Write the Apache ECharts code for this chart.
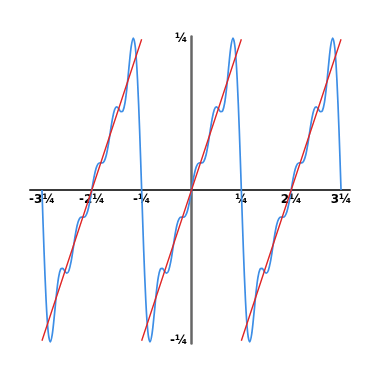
<!DOCTYPE html>
<html>
<head>
<meta charset="utf-8">
<script src="https://cdn.jsdelivr.net/npm/echarts@6/dist/echarts.min.js"></script>
<style>
html,body{margin:0;padding:0;background:#fff;}
#chart{width:375px;height:372px;}
</style>
</head>
<body>
<div id="chart"></div>
<script>
// x in multiples of the period unit shown as "¼" on the axis
const xTickValues = [-3, -2, -1, 1, 2, 3];
const xTickLabels = ['-3¼', '-2¼', '-¼', '¼', '2¼', '3¼'];
const yTickValues = [-3.1416, 3.1416];
const yTickLabels = ['-¼', '¼'];

// red sawtooth: segment end points [x, y]
const sawX = [-3, -1, null, -1, 1, null, 1, 3];
const sawY = [-3.1416, 3.1416, null, -3.1416, 3.1416, null, -3.1416, 3.1416];

// blue approximation, sampled from x = -3 to 3 every 1/24
const approxStart = -3;
const approxStep = 1 / 24;
const approxY = [
  0, -1.269, -2.308, -2.958, -3.166, -2.997, -2.603, -2.161, -1.819, -1.647, -1.631, -1.693,
  -1.733, -1.676, -1.497, -1.233, -0.953, -0.729, -0.603, -0.565, -0.568, -0.544, -0.442, -0.251,
  0, 0.251, 0.442, 0.544, 0.568, 0.565, 0.603, 0.729, 0.953, 1.233, 1.497, 1.676,
  1.733, 1.693, 1.631, 1.647, 1.819, 2.161, 2.603, 2.997, 3.166, 2.958, 2.308, 1.269,
  0, -1.269, -2.308, -2.958, -3.166, -2.997, -2.603, -2.161, -1.819, -1.647, -1.631, -1.693,
  -1.733, -1.676, -1.497, -1.233, -0.953, -0.729, -0.603, -0.565, -0.568, -0.544, -0.442, -0.251,
  0, 0.251, 0.442, 0.544, 0.568, 0.565, 0.603, 0.729, 0.953, 1.233, 1.497, 1.676,
  1.733, 1.693, 1.631, 1.647, 1.819, 2.161, 2.603, 2.997, 3.166, 2.958, 2.308, 1.269,
  0, -1.269, -2.308, -2.958, -3.166, -2.997, -2.603, -2.161, -1.819, -1.647, -1.631, -1.693,
  -1.733, -1.676, -1.497, -1.233, -0.953, -0.729, -0.603, -0.565, -0.568, -0.544, -0.442, -0.251,
  0, 0.251, 0.442, 0.544, 0.568, 0.565, 0.603, 0.729, 0.953, 1.233, 1.497, 1.676,
  1.733, 1.693, 1.631, 1.647, 1.819, 2.161, 2.603, 2.997, 3.166, 2.958, 2.308, 1.269,
  0
];

const sawData = sawX.map((x, i) => (x === null ? [null, null] : [x, sawY[i]]));
const approxData = approxY.map((y, i) => [approxStart + i * approxStep, y]);

function lookup(values, labels, v) {
  for (let i = 0; i < values.length; i++) {
    if (Math.abs(values[i] - v) < 1e-3) return labels[i];
  }
  return '';
}

const gridLeft = 30, gridRight = 25, gridTop = 36.4, gridBottom = 28.4;
const W = 375, H = 372;
const xMin = -3.24, xMax = 3.18, yMin = -3.2, yMax = 3.2;
// shift axes so they cross at the origin (inside the plot)
const plotW = W - gridLeft - gridRight, plotH = H - gridTop - gridBottom;
const yAxisOffset = -plotW * (0 - xMin) / (xMax - xMin);
const xAxisOffset = -plotH * (0 - yMin) / (yMax - yMin);

const chart = echarts.init(document.getElementById('chart'), null, {renderer: 'canvas'});
chart.setOption({
  animation: false,
  backgroundColor: '#ffffff',
  grid: {left: gridLeft, right: gridRight, top: gridTop, bottom: gridBottom, containLabel: false},
  xAxis: {
    type: 'value',
    position: 'bottom',
    offset: xAxisOffset,
    min: xMin,
    max: xMax,
    splitLine: {show: false},
    axisTick: {show: false},
    axisLine: {onZero: false, lineStyle: {color: '#3a3a3a', width: 2}},
    axisLabel: {
      customValues: xTickValues,
      formatter: v => lookup(xTickValues, xTickLabels, v),
      color: '#000',
      fontWeight: 'bold',
      fontSize: 12,
      fontFamily: 'DejaVu Sans',
      margin: 4
    }
  },
  yAxis: {
    type: 'value',
    position: 'left',
    offset: yAxisOffset,
    min: yMin,
    max: yMax,
    splitLine: {show: false},
    axisTick: {show: false},
    axisLine: {onZero: false, lineStyle: {color: '#666', width: 2.5}},
    axisLabel: {
      customValues: yTickValues,
      formatter: v => lookup(yTickValues, yTickLabels, v),
      color: '#000',
      fontWeight: 'bold',
      fontSize: 12,
      fontFamily: 'DejaVu Sans',
      margin: 4
    }
  },
  series: [
    {
      type: 'line',
      data: approxData,
      smooth: 0.3,
      showSymbol: false,
      connectNulls: false,
      lineStyle: {color: '#3d8ee6', width: 1.7},
      z: 3
    },
    {
      type: 'line',
      data: sawData,
      showSymbol: false,
      connectNulls: false,
      lineStyle: {color: '#e02626', width: 1.4},
      z: 4
    }
  ]
});
</script>
</body>
</html>
